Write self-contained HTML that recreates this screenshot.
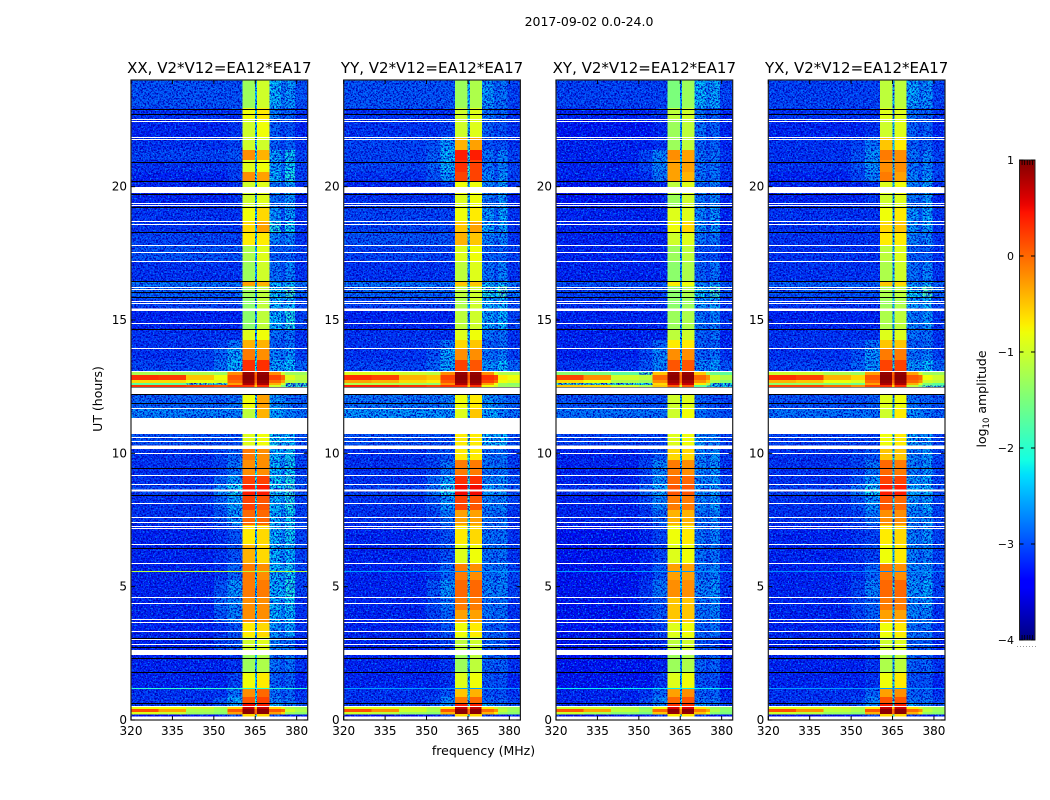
<!DOCTYPE html>
<html><head><meta charset="utf-8"><title>Amplitude spectrogram</title>
<style>
html,body{margin:0;padding:0;background:#fff;width:1050px;height:800px;overflow:hidden}
svg{display:block}
text{font-family:"DejaVu Sans","Liberation Sans",sans-serif;fill:#000}
</style></head>
<body>
<svg id="chart" width="1050" height="800" viewBox="0 0 1050 800" xmlns="http://www.w3.org/2000/svg">
<defs>
<filter id="noise" x="0" y="0" width="1" height="1" color-interpolation-filters="sRGB">
<feTurbulence type="fractalNoise" baseFrequency="0.6" numOctaves="2" seed="7" result="t"/>
<feColorMatrix in="t" type="matrix" values="0 0 0 0 0  0 0 0 0 0  0 0 0 0 0.72  5 0 0 0 -2.2" result="dark"/>
<feColorMatrix in="t" type="matrix" values="0 0 0 0 0  0 0 0 0 0.5  0 0 0 0 1  0 5 0 0 -2.75" result="light"/>
<feMerge result="m"><feMergeNode in="SourceGraphic"/><feMergeNode in="dark"/><feMergeNode in="light"/></feMerge>
<feComposite in="m" in2="SourceAlpha" operator="in"/>
</filter>
<linearGradient id="cbar-gradient" x1="0" y1="1" x2="0" y2="0"></linearGradient>
</defs>
<text x="589" y="26" font-size="12.500" text-anchor="middle">2017-09-02 0.0-24.0</text>
<text x="483.500" y="755" font-size="12.500" text-anchor="middle">frequency (MHz)</text>
<text transform="translate(102,399) rotate(-90)" font-size="12.500" text-anchor="middle">UT (hours)</text>
<text transform="translate(986,399) rotate(-90)" font-size="12.500" text-anchor="middle">log<tspan font-size="8.500" dy="3">10</tspan><tspan dy="-3"> amplitude</tspan></text>
<g id="panels"></g>
<g id="colorbar"></g>
</svg>
<script>
const titles = ["XX, V2*V12=EA12*EA17","YY, V2*V12=EA12*EA17","XY, V2*V12=EA12*EA17","YX, V2*V12=EA12*EA17"];
const panelKeys = ["xx","yy","xy","yx"];
const xTicks = [320,335,350,365,380];
const yTicks = [0,5,10,15,20];
const cbTicks = [1,0,-1,-2,-3,-4];
const cbTickLabels = ["1","0","\u22121","\u22122","\u22123","\u22124"];
const freqEdges = [320,330,340,350,355,360.4,364.8,365.7,370,374.4,375.8,379.4,384];
const timeEdges = [24,22.95,22.53,21.86,21.37,21,20.55,20.21,19.72,19.24,18.67,18.3,17.81,17.21,16.46,16.27,15.86,15.45,14.66,14.25,13.95,13.5,13.05,12.94,12.75,12.64,12.56,12.49,12.22,11.7,11.32,10.72,10.27,9.75,9.19,8.85,8.44,7.87,7.31,6.6,5.89,5.25,4.61,4.12,3.67,3.11,2.62,2.44,1.8,1.2,0.86,0.64,0.49,0.41,0.3,0.22,0.15];
const valuesXX = [
[-2.9,-2.9,-2.9,-2.9,-2.9,-1.3,-2.3,-1.0,-2.3,-2.7,-2.5,-2.9],
[-3.1,-3.1,-3.1,-3.1,-3.1,-0.8,-2.2,-0.7,-2.6,-2.9,-2.8,-3.1],
[-3.2,-3.2,-3.2,-3.2,-3.1,-1.0,-2.2,-0.8,-2.8,-3.0,-2.9,-3.2],
[-3.1,-3.1,-3.1,-3.1,-3.0,-1.0,-2.2,-1.0,-2.8,-3.0,-2.8,-3.1],
[-3.0,-3.0,-3.0,-3.0,-2.9,-0.2,-2.1,-0.4,-2.4,-2.8,-2.2,-3.0],
[-3.1,-3.1,-3.1,-3.1,-3.0,-0.9,-2.2,-0.8,-2.4,-2.8,-2.2,-3.0],
[-3.2,-3.2,-3.2,-3.2,-3.0,-0.2,-2.1,-0.3,-2.3,-2.8,-2.1,-3.0],
[-3.2,-3.2,-3.2,-3.2,-3.1,-1.0,-2.2,-0.9,-2.6,-2.8,-2.4,-3.1],
[-3.2,-3.2,-3.2,-3.2,-3.1,-1.0,-2.3,-0.9,-2.7,-2.8,-2.5,-3.2],
[-3.1,-3.1,-3.1,-3.1,-3.1,-0.8,-2.2,-0.6,-2.5,-2.9,-2.4,-3.1],
[-3.1,-3.1,-3.1,-3.1,-3.1,-0.6,-2.2,-0.3,-2.1,-2.9,-2.2,-3.1],
[-3.0,-3.0,-3.0,-3.0,-3.0,-0.7,-2.2,-0.7,-2.6,-2.8,-2.6,-3.1],
[-2.9,-2.9,-2.9,-2.9,-2.9,-1.2,-2.3,-0.9,-2.8,-2.9,-2.8,-3.0],
[-3.1,-3.1,-3.1,-3.1,-3.1,-1.3,-2.4,-1.0,-2.7,-2.9,-2.6,-3.1],
[-2.7,-2.7,-2.7,-2.7,-2.7,-0.3,-2.2,-0.4,-2.3,-2.6,-2.3,-2.7],
[-2.8,-2.8,-2.8,-2.8,-2.8,-1.3,-2.3,-1.1,-2.2,-2.4,-1.9,-2.8],
[-3.0,-3.0,-3.0,-3.0,-3.0,-1.4,-2.3,-1.1,-2.3,-2.6,-2.3,-3.0],
[-3.2,-3.2,-3.2,-3.2,-3.2,-1.4,-2.4,-1.1,-2.3,-2.6,-2.1,-3.0],
[-3.1,-3.1,-3.1,-3.1,-3.1,-0.9,-2.3,-0.8,-2.7,-2.8,-2.7,-3.1],
[-3.1,-3.1,-3.1,-3.0,-2.7,-0.4,-2.3,-0.4,-2.8,-2.9,-2.7,-3.1],
[-3.1,-3.1,-3.0,-2.8,-2.4,-0.1,-2.2,-0.2,-2.6,-2.7,-2.5,-3.0],
[-3.0,-3.0,-3.0,-2.7,-2.3,0.3,-2.1,0.3,-2.4,-2.5,-2.3,-2.8],
[-1.2,-1.2,-1.2,-1.3,-0.2,0.9,0.0,0.9,-0.2,-1.0,-1.3,-1.3],
[0.3,0.25,-0.5,-0.8,0.1,0.95,0.1,0.95,0.2,0.0,-0.9,-1.1],
[-0.6,-0.6,-0.8,-0.9,0.0,0.9,0.0,0.9,0.0,-0.3,-1.1,-1.2],
[-1.7,-1.7,-1.8,-1.9,-0.3,0.8,-0.2,0.8,-0.4,-1.0,-1.8,-1.9],
[0.3,0.3,0.2,0.1,0.3,0.3,-0.5,0.3,-1.0,-1.5,-2.0,-2.0],
null,
[-2.8,-2.8,-2.8,-2.8,-2.7,-0.8,-2.2,-0.3,-2.5,-2.6,-2.7,-2.8],
[-2.6,-2.6,-2.6,-2.6,-2.6,-1.1,-2.2,-0.4,-2.4,-2.5,-2.6,-2.7],
null,
[-2.9,-2.9,-2.9,-2.9,-2.9,-0.9,-1.9,-0.8,-2.2,-2.4,-2.3,-2.9],
[-3.1,-3.1,-3.1,-3.0,-2.8,-0.1,-2.1,-0.2,-2.3,-2.5,-2.2,-3.0],
[-3.1,-3.1,-3.1,-3.0,-2.7,-0.2,-2.1,-0.2,-2.3,-2.6,-2.2,-3.0],
[-3.1,-3.1,-3.1,-2.8,-2.4,0.2,-2.0,0.2,-2.2,-2.4,-2.1,-2.9],
[-3.0,-3.0,-3.0,-2.6,-2.2,0.4,-2.0,0.4,-2.2,-2.3,-2.0,-2.9],
[-3.1,-3.1,-3.1,-2.8,-2.4,0.2,-2.1,0.1,-2.3,-2.5,-2.1,-3.0],
[-3.1,-3.1,-3.1,-2.9,-2.5,0.0,-2.1,0.0,-2.3,-2.6,-2.2,-3.0],
[-3.2,-3.2,-3.2,-3.1,-2.9,-0.7,-2.2,-0.6,-2.3,-2.6,-2.2,-3.0],
[-3.2,-3.2,-3.2,-3.1,-2.9,-0.4,-2.2,-0.6,-2.3,-2.6,-2.3,-3.0],
[-3.2,-3.2,-3.2,-3.1,-2.8,-0.1,-2.2,-0.2,-2.3,-2.5,-2.2,-3.0],
[-3.2,-3.2,-3.2,-2.9,-2.5,-0.1,-2.2,-0.1,-2.3,-2.4,-2.1,-3.0],
[-3.2,-3.2,-3.2,-2.8,-2.6,-0.2,-2.2,-0.2,-2.3,-2.6,-2.2,-3.1],
[-3.2,-3.2,-3.2,-2.9,-2.6,-0.2,-2.2,-0.2,-2.3,-2.6,-2.3,-3.1],
[-3.2,-3.2,-3.2,-3.1,-2.9,-0.7,-2.3,-0.6,-2.5,-2.8,-2.4,-3.1],
[-3.2,-3.2,-3.2,-3.0,-2.9,-1.0,-2.2,-0.9,-2.6,-2.8,-2.7,-3.2],
[-2.4,-2.4,-2.4,-2.4,-2.3,-0.7,-1.9,-0.7,-1.6,-1.9,-1.2,-2.4],
[-3.2,-3.2,-3.2,-3.2,-3.1,-1.3,-2.3,-1.2,-2.7,-2.9,-2.7,-3.1],
[-3.2,-3.2,-3.2,-3.2,-3.0,-0.8,-2.3,-0.7,-2.8,-3.0,-2.8,-3.2],
[-3.1,-3.1,-3.1,-3.1,-2.7,-0.2,-2.2,0.0,-2.7,-2.9,-2.8,-3.1],
[-3.1,-3.1,-3.1,-2.9,-2.4,0.1,-2.1,0.2,-2.6,-2.8,-2.7,-3.0],
[-3.0,-3.0,-3.0,-2.9,-2.5,0.5,-2.0,0.4,-2.3,-2.6,-2.6,-2.9],
[-0.8,-0.8,-1.0,-1.2,-0.6,0.7,-0.5,0.7,-0.6,-0.9,-1.2,-1.3],
[0.15,-0.3,-1.2,-1.3,0.1,0.95,0.0,0.95,0.1,0.0,-1.0,-1.2],
[-0.9,-1.0,-1.3,-1.4,-0.3,0.95,0.0,0.95,-0.3,-0.6,-1.3,-1.4],
[-3.4,-3.4,-3.4,-3.4,-3.0,-0.6,-2.0,-0.6,-3.0,-3.2,-3.3,-3.3]
];
const valuesYY = [
[-2.9,-2.9,-2.9,-2.9,-2.9,-1.3,-2.3,-1.2,-2.5,-2.8,-2.7,-3.0],
[-3.1,-3.1,-3.1,-3.1,-3.1,-1.0,-2.2,-0.9,-2.7,-2.9,-2.8,-3.1],
[-3.1,-3.1,-3.1,-3.1,-3.0,-1.0,-2.2,-0.9,-2.8,-3.0,-2.9,-3.1],
[-3.0,-3.0,-3.0,-2.9,-2.5,-0.4,-2.2,-0.3,-2.9,-3.0,-2.9,-3.1],
[-3.0,-3.0,-3.0,-2.8,-2.3,0.4,-2.1,0.4,-2.7,-2.9,-2.6,-3.0],
[-3.0,-3.0,-3.0,-2.8,-2.3,0.3,-2.1,0.2,-2.7,-2.9,-2.6,-3.0],
[-3.1,-3.1,-3.1,-2.9,-2.5,0.2,-2.1,0.2,-2.6,-2.9,-2.5,-3.0],
[-3.2,-3.2,-3.2,-3.2,-3.0,-0.8,-2.2,-0.8,-2.6,-2.8,-2.4,-3.1],
[-3.1,-3.1,-3.1,-3.1,-3.1,-0.9,-2.3,-0.8,-2.7,-2.8,-2.5,-3.2],
[-3.0,-3.0,-3.0,-3.0,-3.0,-0.8,-2.2,-0.7,-2.5,-2.9,-2.4,-3.1],
[-3.0,-3.0,-3.0,-3.0,-3.0,-0.5,-2.2,-0.3,-2.4,-2.9,-2.4,-3.1],
[-2.9,-2.9,-2.9,-2.9,-2.9,-0.4,-2.2,-0.5,-2.6,-2.8,-2.6,-3.1],
[-3.0,-3.0,-3.0,-3.0,-3.0,-0.9,-2.3,-0.8,-2.8,-2.9,-2.8,-3.0],
[-3.1,-3.1,-3.1,-3.1,-3.1,-1.1,-2.4,-0.9,-2.7,-2.9,-2.6,-3.1],
[-2.7,-2.7,-2.7,-2.7,-2.7,-0.5,-2.2,-0.5,-2.3,-2.6,-2.3,-2.7],
[-2.8,-2.8,-2.8,-2.8,-2.8,-1.1,-2.3,-1.0,-2.1,-2.3,-1.8,-2.7],
[-3.0,-3.0,-3.0,-3.0,-3.0,-1.2,-2.3,-1.0,-2.3,-2.6,-2.3,-3.0],
[-3.2,-3.2,-3.2,-3.2,-3.2,-1.1,-2.4,-1.0,-2.4,-2.7,-2.3,-3.0],
[-3.1,-3.1,-3.1,-3.1,-3.1,-0.9,-2.3,-0.8,-2.7,-2.8,-2.7,-3.1],
[-3.1,-3.1,-3.1,-3.0,-2.7,-0.6,-2.3,-0.5,-2.8,-2.9,-2.7,-3.1],
[-3.1,-3.1,-3.1,-2.9,-2.4,-0.2,-2.2,-0.2,-2.7,-2.8,-2.6,-3.0],
[-3.0,-3.0,-3.0,-2.8,-2.4,0.2,-2.1,0.1,-2.5,-2.6,-2.3,-2.8],
[-0.9,-0.9,-1.0,-1.1,-0.2,0.9,0.0,0.9,-0.2,-0.9,-1.2,-1.2],
[0.3,0.2,-0.4,-0.5,0.2,0.95,0.1,0.95,0.3,0.2,-0.7,-0.8],
[-0.3,-0.4,-0.6,-0.7,0.1,0.9,0.0,0.9,0.2,0.0,-0.8,-0.9],
[-1.2,-1.2,-1.3,-1.4,-0.2,0.8,-0.2,0.8,-0.3,-0.8,-1.3,-1.4],
[0.4,0.4,0.3,0.2,0.3,0.3,-0.5,0.3,-0.8,-1.0,-1.3,-1.3],
null,
[-2.7,-2.7,-2.7,-2.7,-2.6,-0.8,-2.2,-0.7,-2.5,-2.6,-2.7,-2.8],
[-2.5,-2.5,-2.5,-2.5,-2.5,-0.9,-2.2,-0.5,-2.4,-2.4,-2.6,-2.7],
null,
[-2.9,-2.9,-2.9,-2.9,-2.9,-0.7,-1.9,-0.7,-2.3,-2.4,-2.3,-2.9],
[-3.1,-3.1,-3.1,-3.0,-2.9,-0.7,-2.1,-0.7,-2.7,-2.8,-2.7,-3.1],
[-3.1,-3.1,-3.1,-3.0,-2.7,-0.1,-2.1,-0.1,-2.7,-2.8,-2.7,-3.0],
[-3.1,-3.1,-3.1,-2.8,-2.4,0.3,-2.0,0.3,-2.6,-2.7,-2.5,-2.9],
[-3.0,-3.0,-3.0,-2.7,-2.2,0.5,-2.0,0.5,-2.5,-2.6,-2.5,-2.9],
[-3.1,-3.1,-3.1,-2.9,-2.5,0.2,-2.1,0.1,-2.6,-2.7,-2.6,-3.0],
[-3.1,-3.1,-3.1,-3.0,-2.7,-0.3,-2.1,-0.3,-2.7,-2.8,-2.7,-3.1],
[-3.2,-3.2,-3.2,-3.1,-2.9,-0.7,-2.2,-0.6,-2.7,-2.8,-2.7,-3.1],
[-3.2,-3.2,-3.2,-3.1,-2.9,-0.9,-2.2,-0.8,-2.7,-2.8,-2.7,-3.1],
[-3.2,-3.2,-3.2,-3.1,-2.8,-0.1,-2.2,-0.2,-2.7,-2.8,-2.6,-3.0],
[-3.2,-3.2,-3.2,-2.9,-2.5,0.0,-2.2,0.0,-2.6,-2.7,-2.6,-3.0],
[-3.2,-3.2,-3.2,-3.0,-2.7,-0.1,-2.2,-0.1,-2.7,-2.8,-2.7,-3.1],
[-3.2,-3.2,-3.2,-3.0,-2.8,-0.3,-2.2,-0.3,-2.7,-2.8,-2.7,-3.1],
[-3.2,-3.2,-3.2,-3.1,-2.9,-0.8,-2.3,-0.7,-2.8,-2.9,-2.8,-3.1],
[-3.2,-3.2,-3.2,-3.1,-3.0,-1.1,-2.2,-1.0,-2.8,-2.9,-2.8,-3.2],
[-2.4,-2.4,-2.4,-2.4,-2.3,-0.8,-1.9,-0.8,-1.8,-2.0,-1.4,-2.4],
[-3.2,-3.2,-3.2,-3.2,-3.1,-1.3,-2.3,-1.1,-2.8,-2.9,-2.8,-3.1],
[-3.2,-3.2,-3.2,-3.2,-3.1,-0.9,-2.3,-0.8,-2.9,-3.0,-2.9,-3.2],
[-3.1,-3.1,-3.1,-3.1,-2.9,-0.5,-2.2,-0.4,-2.9,-3.0,-2.9,-3.1],
[-3.1,-3.1,-3.1,-3.0,-2.6,-0.1,-2.1,0.0,-2.8,-2.9,-2.8,-3.0],
[-3.0,-3.0,-3.0,-2.9,-2.6,0.4,-2.0,0.4,-2.4,-2.7,-2.7,-2.9],
[-0.9,-0.9,-1.0,-1.2,-0.7,0.7,-0.5,0.7,-0.7,-1.0,-1.2,-1.3],
[0.15,-0.2,-1.0,-1.2,0.1,0.95,0.0,0.95,0.0,-0.2,-1.1,-1.3],
[-1.0,-1.1,-1.3,-1.4,-0.4,0.95,0.0,0.95,-0.4,-0.7,-1.3,-1.4],
[-3.4,-3.4,-3.4,-3.4,-3.0,-0.6,-2.0,-0.6,-3.0,-3.2,-3.3,-3.3]
];
const valuesXY = [
[-3.0,-3.0,-3.0,-3.0,-3.0,-1.5,-2.5,-1.3,-2.3,-2.6,-2.4,-3.0],
[-3.2,-3.2,-3.2,-3.2,-3.1,-1.1,-2.5,-1.0,-2.7,-3.0,-2.8,-3.2],
[-3.3,-3.3,-3.3,-3.3,-3.2,-1.3,-2.5,-1.1,-2.7,-3.0,-2.8,-3.2],
[-3.2,-3.2,-3.2,-3.2,-3.1,-1.3,-2.5,-1.1,-2.8,-3.0,-2.8,-3.2],
[-3.2,-3.2,-3.2,-3.0,-2.6,-0.2,-2.3,-0.3,-2.7,-2.9,-2.7,-3.1],
[-3.2,-3.2,-3.2,-3.0,-2.6,-0.3,-2.3,-0.3,-2.7,-2.9,-2.7,-3.1],
[-3.2,-3.2,-3.2,-3.1,-2.7,-0.3,-2.3,-0.4,-2.7,-2.9,-2.7,-3.1],
[-3.3,-3.3,-3.3,-3.3,-3.2,-1.1,-2.4,-0.9,-2.7,-2.9,-2.6,-3.2],
[-3.3,-3.3,-3.3,-3.3,-3.2,-1.3,-2.5,-1.0,-2.7,-2.9,-2.6,-3.2],
[-3.2,-3.2,-3.2,-3.2,-3.2,-0.9,-2.4,-0.9,-2.6,-2.9,-2.5,-3.2],
[-3.2,-3.2,-3.2,-3.2,-3.2,-0.8,-2.4,-0.6,-2.5,-2.9,-2.5,-3.2],
[-3.2,-3.2,-3.2,-3.2,-3.2,-1.0,-2.4,-0.9,-2.7,-2.9,-2.7,-3.2],
[-3.2,-3.2,-3.2,-3.2,-3.2,-1.3,-2.5,-1.1,-2.9,-3.0,-2.9,-3.2],
[-3.2,-3.2,-3.2,-3.2,-3.2,-1.4,-2.5,-1.2,-2.8,-3.0,-2.7,-3.2],
[-2.9,-2.9,-2.9,-2.9,-2.9,-0.7,-2.3,-0.8,-2.6,-2.8,-2.5,-2.9],
[-3.0,-3.0,-3.0,-3.0,-3.0,-1.4,-2.4,-1.2,-2.2,-2.5,-1.9,-2.9],
[-3.1,-3.1,-3.1,-3.1,-3.1,-1.4,-2.4,-1.3,-2.5,-2.7,-2.4,-3.1],
[-3.2,-3.2,-3.2,-3.2,-3.2,-1.3,-2.4,-1.2,-2.7,-2.9,-2.6,-3.1],
[-3.2,-3.2,-3.2,-3.2,-3.2,-1.1,-2.4,-1.0,-2.8,-2.9,-2.7,-3.2],
[-3.2,-3.2,-3.2,-3.1,-2.8,-0.7,-2.4,-0.7,-2.8,-2.9,-2.8,-3.2],
[-3.2,-3.2,-3.2,-3.0,-2.6,-0.2,-2.3,-0.2,-2.8,-2.9,-2.7,-3.1],
[-3.1,-3.1,-3.1,-2.9,-2.6,0.1,-2.2,0.1,-2.6,-2.7,-2.5,-2.9],
[-1.4,-1.5,-1.7,-1.8,-0.5,0.9,-0.1,0.9,-0.5,-1.3,-1.6,-1.7],
[0.2,-0.2,-1.0,-1.1,0.0,0.95,0.0,0.95,0.0,-0.2,-1.0,-1.2],
[-0.6,-0.8,-1.2,-1.3,-0.2,0.85,0.0,0.85,-0.2,-0.5,-1.2,-1.4],
[-1.9,-1.9,-2.0,-2.1,-0.6,0.7,-0.3,0.7,-0.7,-1.2,-2.0,-2.1],
[-0.5,-0.6,-1.0,-1.2,-0.5,0.1,-1.0,0.1,-1.7,-2.0,-2.2,-2.2],
null,
[-2.9,-2.9,-2.9,-2.9,-2.9,-1.0,-2.4,-0.9,-2.8,-2.9,-2.9,-3.0],
[-2.7,-2.7,-2.7,-2.7,-2.7,-1.0,-2.4,-0.8,-2.7,-2.8,-2.8,-2.9],
null,
[-3.0,-3.0,-3.0,-3.0,-3.0,-0.9,-2.2,-0.8,-2.5,-2.7,-2.6,-3.0],
[-3.2,-3.2,-3.2,-3.1,-2.9,-0.6,-2.3,-0.6,-2.6,-2.8,-2.5,-3.1],
[-3.2,-3.2,-3.2,-3.0,-2.6,-0.1,-2.3,-0.2,-2.6,-2.8,-2.5,-3.1],
[-3.2,-3.2,-3.2,-3.0,-2.5,0.0,-2.2,0.0,-2.6,-2.7,-2.5,-3.0],
[-3.1,-3.1,-3.1,-2.8,-2.4,0.1,-2.2,0.1,-2.5,-2.7,-2.4,-3.0],
[-3.2,-3.2,-3.2,-3.0,-2.6,-0.1,-2.3,-0.1,-2.6,-2.8,-2.5,-3.1],
[-3.2,-3.2,-3.2,-3.1,-2.8,-0.4,-2.3,-0.4,-2.7,-2.8,-2.6,-3.1],
[-3.3,-3.3,-3.3,-3.2,-3.0,-0.8,-2.4,-0.7,-2.7,-2.9,-2.6,-3.1],
[-3.3,-3.3,-3.3,-3.2,-3.0,-0.9,-2.4,-0.8,-2.7,-2.9,-2.7,-3.1],
[-3.3,-3.3,-3.3,-3.2,-2.9,-0.3,-2.4,-0.3,-2.7,-2.8,-2.6,-3.1],
[-3.3,-3.3,-3.3,-3.1,-2.7,-0.2,-2.3,-0.2,-2.6,-2.7,-2.5,-3.1],
[-3.3,-3.3,-3.3,-3.1,-2.9,-0.5,-2.4,-0.5,-2.7,-2.8,-2.6,-3.2],
[-3.3,-3.3,-3.3,-3.1,-2.9,-0.5,-2.4,-0.5,-2.7,-2.8,-2.6,-3.2],
[-3.3,-3.3,-3.3,-3.2,-3.0,-0.9,-2.4,-0.8,-2.8,-2.9,-2.7,-3.2],
[-3.3,-3.3,-3.3,-3.2,-3.1,-1.1,-2.4,-1.0,-2.9,-3.0,-2.9,-3.3],
[-2.7,-2.7,-2.7,-2.7,-2.6,-0.9,-2.1,-0.9,-2.0,-2.2,-1.6,-2.7],
[-3.3,-3.3,-3.3,-3.3,-3.2,-1.3,-2.5,-1.2,-2.8,-3.0,-2.8,-3.2],
[-3.3,-3.3,-3.3,-3.3,-3.1,-0.9,-2.4,-0.8,-2.9,-3.0,-2.9,-3.3],
[-3.2,-3.2,-3.2,-3.1,-2.8,-0.3,-2.3,-0.2,-2.8,-2.9,-2.8,-3.2],
[-3.2,-3.2,-3.2,-3.0,-2.6,0.0,-2.2,0.1,-2.7,-2.8,-2.7,-3.1],
[-3.1,-3.1,-3.1,-3.0,-2.7,0.3,-2.1,0.3,-2.5,-2.7,-2.7,-3.0],
[-1.0,-1.0,-1.2,-1.4,-0.8,0.6,-0.6,0.6,-0.7,-1.0,-1.3,-1.4],
[0.1,-0.3,-1.1,-1.3,0.0,0.95,-0.2,0.95,-0.1,-0.3,-1.2,-1.4],
[-1.0,-1.2,-1.4,-1.5,-0.5,0.9,-0.1,0.9,-0.5,-0.8,-1.4,-1.5],
[-3.5,-3.5,-3.5,-3.5,-3.1,-0.7,-2.1,-0.7,-3.1,-3.3,-3.4,-3.4]
];
const valuesYX = [
[-3.0,-3.0,-3.0,-3.0,-3.0,-1.1,-2.4,-1.1,-2.4,-2.7,-2.5,-3.0],
[-3.1,-3.1,-3.1,-3.1,-3.1,-0.9,-2.3,-0.9,-2.7,-2.9,-2.8,-3.1],
[-3.2,-3.2,-3.2,-3.2,-3.1,-1.0,-2.3,-0.9,-2.8,-3.0,-2.8,-3.2],
[-3.1,-3.1,-3.1,-3.0,-2.7,-0.5,-2.3,-0.7,-2.8,-3.0,-2.8,-3.1],
[-3.1,-3.1,-3.1,-2.9,-2.5,-0.1,-2.2,-0.2,-2.7,-2.9,-2.6,-3.0],
[-3.1,-3.1,-3.1,-2.9,-2.5,-0.2,-2.2,-0.2,-2.7,-2.9,-2.6,-3.0],
[-3.2,-3.2,-3.2,-3.0,-2.6,-0.1,-2.2,-0.3,-2.6,-2.9,-2.5,-3.0],
[-3.2,-3.2,-3.2,-3.2,-3.1,-0.9,-2.3,-0.8,-2.6,-2.8,-2.4,-3.1],
[-3.2,-3.2,-3.2,-3.2,-3.1,-1.0,-2.3,-0.9,-2.7,-2.8,-2.5,-3.2],
[-3.1,-3.1,-3.1,-3.1,-3.1,-0.8,-2.3,-0.7,-2.5,-2.9,-2.4,-3.1],
[-3.1,-3.1,-3.1,-3.1,-3.1,-0.6,-2.3,-0.5,-2.5,-2.9,-2.4,-3.1],
[-3.1,-3.1,-3.1,-3.1,-3.1,-0.7,-2.3,-0.7,-2.6,-2.8,-2.6,-3.1],
[-3.1,-3.1,-3.1,-3.1,-3.1,-1.1,-2.4,-0.9,-2.8,-2.9,-2.8,-3.1],
[-3.1,-3.1,-3.1,-3.1,-3.1,-1.2,-2.4,-1.0,-2.7,-2.9,-2.6,-3.1],
[-2.8,-2.8,-2.8,-2.8,-2.8,-0.5,-2.3,-0.6,-2.5,-2.7,-2.4,-2.8],
[-2.9,-2.9,-2.9,-2.9,-2.9,-1.2,-2.4,-1.1,-2.2,-2.3,-1.8,-2.8],
[-3.1,-3.1,-3.1,-3.1,-3.1,-1.3,-2.4,-1.2,-2.4,-2.7,-2.3,-3.0],
[-3.2,-3.2,-3.2,-3.2,-3.2,-1.2,-2.4,-1.1,-2.6,-2.8,-2.5,-3.1],
[-3.1,-3.1,-3.1,-3.1,-3.1,-0.9,-2.4,-0.9,-2.7,-2.8,-2.7,-3.1],
[-3.1,-3.1,-3.1,-3.0,-2.7,-0.5,-2.4,-0.5,-2.8,-2.9,-2.7,-3.1],
[-3.1,-3.1,-3.1,-2.9,-2.5,-0.1,-2.3,-0.1,-2.7,-2.8,-2.6,-3.0],
[-3.0,-3.0,-3.0,-2.8,-2.5,0.2,-2.2,0.2,-2.5,-2.6,-2.3,-2.8],
[-1.0,-1.0,-1.2,-1.3,-0.3,0.9,0.0,0.9,-0.3,-1.0,-1.3,-1.3],
[0.3,0.2,-0.4,-0.6,0.1,0.95,0.1,0.95,0.1,0.0,-0.8,-1.0],
[-0.4,-0.5,-0.8,-0.9,0.0,0.9,0.0,0.9,0.0,-0.2,-1.0,-1.1],
[-1.4,-1.4,-1.5,-1.6,-0.3,0.8,-0.2,0.8,-0.4,-0.9,-1.5,-1.7],
[0.2,0.2,0.0,-0.2,0.2,0.3,-0.6,0.3,-1.1,-1.5,-1.8,-1.8],
null,
[-2.9,-2.9,-2.9,-2.9,-2.8,-0.9,-2.3,-0.8,-2.7,-2.8,-2.8,-2.9],
[-2.7,-2.7,-2.7,-2.7,-2.7,-1.0,-2.3,-0.7,-2.5,-2.6,-2.7,-2.8],
null,
[-3.0,-3.0,-3.0,-3.0,-3.0,-0.8,-2.1,-0.7,-2.4,-2.6,-2.5,-3.0],
[-3.1,-3.1,-3.1,-3.0,-2.9,-0.5,-2.2,-0.5,-2.6,-2.7,-2.5,-3.0],
[-3.1,-3.1,-3.1,-3.0,-2.7,0.0,-2.2,-0.1,-2.6,-2.8,-2.5,-3.0],
[-3.1,-3.1,-3.1,-2.9,-2.5,0.2,-2.1,0.2,-2.5,-2.6,-2.4,-3.0],
[-3.0,-3.0,-3.0,-2.7,-2.2,0.4,-2.1,0.4,-2.4,-2.5,-2.3,-2.9],
[-3.1,-3.1,-3.1,-2.9,-2.5,0.1,-2.2,0.0,-2.5,-2.7,-2.4,-3.0],
[-3.1,-3.1,-3.1,-3.0,-2.7,-0.2,-2.2,-0.2,-2.6,-2.7,-2.5,-3.0],
[-3.2,-3.2,-3.2,-3.1,-3.0,-0.7,-2.3,-0.6,-2.6,-2.8,-2.5,-3.0],
[-3.2,-3.2,-3.2,-3.1,-3.0,-0.8,-2.3,-0.7,-2.6,-2.8,-2.6,-3.0],
[-3.2,-3.2,-3.2,-3.1,-2.8,-0.1,-2.3,-0.2,-2.6,-2.7,-2.5,-3.0],
[-3.2,-3.2,-3.2,-3.0,-2.6,0.0,-2.2,0.0,-2.5,-2.6,-2.4,-3.0],
[-3.2,-3.2,-3.2,-3.0,-2.8,-0.1,-2.3,-0.1,-2.6,-2.7,-2.5,-3.1],
[-3.2,-3.2,-3.2,-3.0,-2.8,-0.3,-2.3,-0.3,-2.6,-2.7,-2.6,-3.1],
[-3.2,-3.2,-3.2,-3.1,-3.0,-0.8,-2.3,-0.7,-2.7,-2.8,-2.7,-3.1],
[-3.2,-3.2,-3.2,-3.1,-3.0,-1.0,-2.3,-0.9,-2.8,-2.9,-2.8,-3.2],
[-2.5,-2.5,-2.5,-2.5,-2.4,-0.8,-2.0,-0.8,-1.9,-2.1,-1.5,-2.5],
[-3.2,-3.2,-3.2,-3.2,-3.1,-1.2,-2.4,-1.1,-2.8,-2.9,-2.8,-3.1],
[-3.2,-3.2,-3.2,-3.2,-3.1,-0.8,-2.3,-0.7,-2.9,-3.0,-2.9,-3.2],
[-3.1,-3.1,-3.1,-3.1,-2.8,-0.3,-2.3,-0.2,-2.8,-2.9,-2.8,-3.1],
[-3.1,-3.1,-3.1,-3.0,-2.6,0.1,-2.2,0.1,-2.7,-2.8,-2.7,-3.0],
[-3.0,-3.0,-3.0,-2.9,-2.6,0.4,-2.1,0.4,-2.4,-2.7,-2.7,-2.9],
[-0.9,-0.9,-1.0,-1.2,-0.7,0.7,-0.5,0.7,-0.7,-1.0,-1.2,-1.3],
[0.15,-0.2,-1.1,-1.2,0.1,0.95,0.0,0.95,0.0,-0.2,-1.1,-1.3],
[-1.0,-1.1,-1.3,-1.4,-0.4,0.95,0.0,0.95,-0.4,-0.7,-1.3,-1.4],
[-3.4,-3.4,-3.4,-3.4,-3.0,-0.6,-2.0,-0.6,-3.0,-3.2,-3.3,-3.3]
];
const panelValues = [valuesXX,valuesYY,valuesXY,valuesYX];
const whiteRows = [22.53,22.48,21.87,21.79,19.37,19.31,18.72,18.6,17.81,17.54,17.22,16.25,16.15,15.71,15.62,14.87,13.94,13.09,11.69,10.6,10.47,10,9.18,8.84,8.12,7.6,7.41,7.27,7.19,6.59,5.88,4.6,4.37,3.78,3.66,3.34,3.03,2.84,0.52];
const whiteBands = [[19.98,19.77],[15.44,15.34],[12.46,12.22],[11.32,10.72],[10.29,10.16],[8.65,8.56],[2.62,2.44]];
const blackRows = [22.92,22.74,20.91,20.2,19.72,19.24,18.29,17.21,16.45,16.06,15.85,14.65,12.49,12.21,11.9,11.31,11.12,9.44,8.44,6.46,3.09,2.75,2.34,1.81,0.63];
const spikeHours = [5.58,1.2];
const spikeValues = [[-1.1,-2.0],[-2.6,-2.6],[-2.6,-2.2],[-2.7,-2.6]];

const svgNS = "http://www.w3.org/2000/svg";
const panelLefts = [131,343.7,556,768.3];
const panelWidth = 176.7, plotTop = 80, plotBottom = 720;
const vMin = -4, vMax = 1;
const cbX = 1019.5, cbW = 15.5, cbTop = 160, cbBottom = 640;
function xScale(panel,f){return panelLefts[panel]+(f-320)/64*panelWidth;}
function yScale(h){return plotBottom-(h/24)*(plotBottom-plotTop);}
function cbScale(v){return cbBottom-(v-vMin)/(vMax-vMin)*(cbBottom-cbTop);}
function interp(pts,t){
  for(let i=1;i<pts.length;i++){
    if(t<=pts[i][0]){const a=pts[i-1],b=pts[i];return a[1]+(b[1]-a[1])*(t-a[0])/(b[0]-a[0]);}
  }
  return pts[pts.length-1][1];
}
const jetR=[[0,0],[0.35,0],[0.66,1],[0.89,1],[1,0.5]];
const jetG=[[0,0],[0.125,0],[0.375,1],[0.64,1],[0.91,0],[1,0]];
const jetB=[[0,0.5],[0.11,1],[0.34,1],[0.65,0],[1,0]];
function jet(v){
  const t=Math.max(0,Math.min(1,(v-vMin)/(vMax-vMin)));
  return "rgb("+Math.round(interp(jetR,t)*255)+","+Math.round(interp(jetG,t)*255)+","+Math.round(interp(jetB,t)*255)+")";
}
function mk(tag,attrs,parent){
  const e=document.createElementNS(svgNS,tag);
  for(const k in attrs){e.setAttribute(k,attrs[k]);}
  parent.appendChild(e);
  return e;
}
const panelsRoot=document.getElementById("panels");
panelKeys.forEach(function(key,p){
  const g=mk("g",{},panelsRoot);
  
  
  const left=panelLefts[p], right=left+panelWidth;
  const title=mk("text",{x:left+panelWidth/2,y:73,"font-size":"15","text-anchor":"middle"},g);
  
  
  title.textContent=titles[p];
  const clipId="clip-"+key;
  const defs=mk("clipPath",{id:clipId},g);
  mk("rect",{x:left,y:plotTop,width:panelWidth,height:plotBottom-plotTop},defs);
  const hi=mk("g",{"clip-path":"url(#"+clipId+")","shape-rendering":"crispEdges"},g);
  
  
  const lo=mk("g",{filter:"url(#noise)","shape-rendering":"crispEdges"},hi);
  
  
  panelValues[p].forEach(function(row,r){
    if(!row){return;}
    row.forEach(function(v,c){
      const x0=xScale(p,freqEdges[c]), x1=xScale(p,freqEdges[c+1]);
      const y0=yScale(timeEdges[r]), y1=yScale(timeEdges[r+1]);
      const cell=mk("rect",{x:x0,y:y0,width:x1-x0+0.3,height:y1-y0+0.3,fill:jet(v)},v<-1.75?lo:hi);
      
      
    });
  });
  spikeHours.forEach(function(h,i){
    const s=mk("rect",{x:left,y:yScale(h),width:panelWidth,height:1,fill:jet(spikeValues[p][i])},hi);
    
    
  });
  blackRows.forEach(function(h){
    const b=mk("rect",{x:left,y:Math.round(yScale(h)),width:panelWidth,height:1,fill:"#000"},hi);
    
    
  });
  whiteRows.forEach(function(h){
    const w=mk("rect",{x:left,y:Math.round(yScale(h)),width:panelWidth,height:1,fill:"#fff"},hi);
    
    
  });
  whiteBands.forEach(function(b){
    const w=mk("rect",{x:left,y:yScale(b[0]),width:panelWidth,height:yScale(b[1])-yScale(b[0]),fill:"#fff"},hi);
    
    
  });
  const frame=mk("rect",{x:left,y:plotTop,width:panelWidth,height:plotBottom-plotTop,fill:"none",stroke:"#222","stroke-width":1.2},g);
  
  
  xTicks.forEach(function(f){
    const x=xScale(p,f);
    const t1=mk("line",{x1:x,x2:x,y1:plotBottom,y2:plotBottom-4,stroke:"#000"},g);
    
    
    const t2=mk("line",{x1:x,x2:x,y1:plotTop,y2:plotTop+4,stroke:"#000"},g);
    
    
    const l=mk("text",{x:x,y:plotBottom+15,"font-size":"12","text-anchor":"middle"},g);
    
    
    l.textContent=f;
  });
  yTicks.forEach(function(h){
    const y=yScale(h);
    const t1=mk("line",{x1:left,x2:left+4,y1:y,y2:y,stroke:"#000"},g);
    
    
    const t2=mk("line",{x1:right,x2:right-4,y1:y,y2:y,stroke:"#000"},g);
    
    
    const l=mk("text",{x:left-4,y:y+4,"font-size":"12","text-anchor":"end"},g);
    
    
    l.textContent=h;
  });
});
const grad=document.getElementById("cbar-gradient");
for(let i=0;i<=64;i++){
  mk("stop",{offset:(i/64),"stop-color":jet(vMin+(vMax-vMin)*i/64)},grad);
}
const cb=document.getElementById("colorbar");
const bar=mk("rect",{x:cbX,y:cbTop,width:cbW,height:cbBottom-cbTop,fill:"url(#cbar-gradient)",stroke:"#222","stroke-width":1},cb);


cbTicks.forEach(function(v,i){
  const y=cbScale(v);
  const t1=mk("line",{x1:cbX,x2:cbX+4,y1:y,y2:y,stroke:"#000"},cb);
  
  
  const t2=mk("line",{x1:cbX+cbW,x2:cbX+cbW-4,y1:y,y2:y,stroke:"#000"},cb);
  
  
  const l=mk("text",{x:1014,y:y+4,"font-size":"11","text-anchor":"end"},cb);
  
  
  l.textContent=cbTickLabels[i];
});
for(let i=1;i<=5;i++){
  const x=cbX+i*cbW/6;
  const a=mk("line",{x1:x,x2:x,y1:cbTop,y2:cbTop+5,stroke:"#000","stroke-width":0.8},cb);
  
  
  const b=mk("line",{x1:x,x2:x,y1:cbBottom,y2:cbBottom-5,stroke:"#000","stroke-width":0.8},cb);
  
  
}
for(let i=0;i<7;i++){
  const d=mk("rect",{x:1017+i*3,y:646,width:1,height:1,fill:"#999"},cb);
  
  
}
</script>
</body></html>
